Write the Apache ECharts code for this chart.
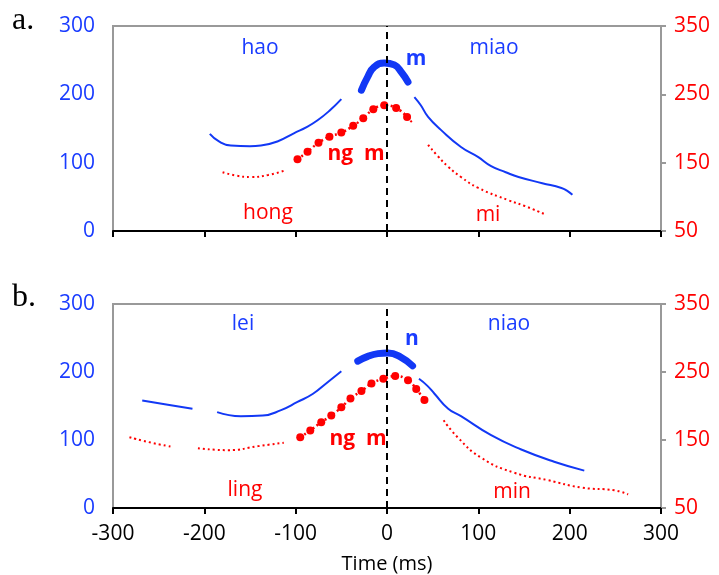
<!DOCTYPE html>
<html>
<head>
<meta charset="utf-8">
<script src="https://cdn.jsdelivr.net/npm/echarts@6/dist/echarts.min.js"></script>
<style>
html,body{margin:0;padding:0;background:#fff;}
#chart{width:719px;height:575px;}
</style>
</head>
<body>
<div id="chart"></div>
<script>
// ---- Axis ticks ----
const xTicks = [-300, -200, -100, 0, 100, 200, 300];
const leftTicks = [0, 100, 200, 300];
const rightTicks = [50, 150, 250, 350];

// ---- Panel a (blue: left axis, red: right axis) ----
const a_hao  = [[-194,142],[-184,131],[-171,125],[-150,124],[-138,125],[-120,131],[-102,143],[-88,152],[-76,162],[-63,176],[-50,193]];
const a_m    = [[-28,206],[-21,226],[-14,240],[-3,246],[8,243],[16,232],[23,218]];
const a_miao = [[30,196],[37,184],[45,167],[59,148],[81,123],[100,108],[114,95],[130,86],[144,79],[170,70],[191,63],[197,59],[203,53]];
const a_hong = [[-180,136],[-165,131],[-149,129],[-130,132],[-111,139]];
const a_ng   = [[-98,155],[-87,166],[-75,179],[-63,188],[-50,194],[-37,204],[-26,215],[-15,228],[-3,234],[10,230],[22,217]];
const a_ngTail = [[22,217],[28,208]];
const a_mi   = [[45,176],[56,159],[67,144],[81,129],[100,113],[133,95],[150,87],[172,75]];

// ---- Panel b ----
const b_lei1  = [[-268,158],[-240,152],[-213,146]];
const b_lei2  = [[-186,141],[-160,135],[-136,136],[-116,144],[-98,156],[-81,168],[-65,185],[-50,201]];
const b_n     = [[-32,216],[-21,223],[-10,227],[1,228],[15,222],[28,209]];
const b_niao  = [[35,190],[44,180],[52,168],[67,146],[81,135],[114,107],[147,86],[183,68],[216,55]];
const b_ling1 = [[-282,154],[-258,146],[-235,140]];
const b_ling2 = [[-207,138],[-174,135],[-141,141],[-113,146]];
const b_ng    = [[-95,154],[-84,164],[-72,176],[-61,186],[-50,198],[-40,211],[-28,222],[-17,233],[-4,240],[9,244],[23,238],[32,225],[41,209]];
const b_min   = [[62,179],[78,153],[103,124],[139,102],[176,91],[213,80],[249,76],[264,70]];

// ---- Annotations ----
const a_labels = [
  {t:'hao',  c:'blue', b:false, x:260, y:48},
  {t:'m',    c:'blue', b:true,  x:416, y:59},
  {t:'miao', c:'blue', b:false, x:494, y:48},
  {t:'ng  m',c:'red',  b:true,  x:356, y:154},
  {t:'hong', c:'red',  b:false, x:268, y:213},
  {t:'mi',   c:'red',  b:false, x:488, y:215}
];
const b_labels = [
  {t:'lei',  c:'blue', b:false, x:243, y:324},
  {t:'n',    c:'blue', b:true,  x:412, y:339},
  {t:'niao', c:'blue', b:false, x:509, y:324},
  {t:'ng  m',c:'red',  b:true,  x:358, y:439},
  {t:'ling', c:'red',  b:false, x:245, y:490},
  {t:'min',  c:'red',  b:false, x:512, y:492}
];

const BLUE = '#1238f5';
const BLUE_T = '#1a3cff';
const RED = '#ff0000';
const TICKFONT = '"Open Sans", sans-serif';

function xAxisDef(gi, showLabels) {
  return {
    type:'value', gridIndex:gi, min:xTicks[0], max:xTicks[xTicks.length-1], interval:100,
    axisLine:{show:true, onZero:false, lineStyle:{color:'#000', width:2}},
    axisTick:{show:true, inside:false, length:6, lineStyle:{color:'#000', width:2}},
    axisLabel:{show:showLabels, color:'#000', fontSize:21, fontFamily:TICKFONT, margin:16},
    splitLine:{show:false},
    name: showLabels ? 'Time (ms)' : '',
    nameLocation:'middle', nameGap:46,
    nameTextStyle:{color:'#000', fontSize:20, fontFamily:TICKFONT}
  };
}
function leftAxisDef(gi) {
  return {
    type:'value', gridIndex:gi, position:'left', min:leftTicks[0], max:leftTicks[leftTicks.length-1], interval:100,
    axisLine:{show:false}, axisTick:{show:false},
    axisLabel:{color:BLUE_T, fontSize:21, fontFamily:TICKFONT, margin:18, padding:[6,0,0,0]},
    splitLine:{show:false}
  };
}
function rightAxisDef(gi) {
  return {
    type:'value', gridIndex:gi, position:'right', min:rightTicks[0], max:rightTicks[rightTicks.length-1], interval:100,
    axisLine:{show:true, lineStyle:{color:'#999', width:2}},
    axisTick:{show:true, inside:false, length:5, lineStyle:{color:'#999', width:2}},
    axisLabel:{color:RED, fontSize:21, fontFamily:TICKFONT, margin:13, padding:[6,0,0,0]},
    splitLine:{show:false}
  };
}

function blueThin(data, xi, yi, withMark) {
  const s = {type:'line', xAxisIndex:xi, yAxisIndex:yi, data:data, smooth:true, showSymbol:false, symbol:'none',
    lineStyle:{color:BLUE, width:2}, z:3};
  if (withMark) {
    s.markLine = {silent:true, symbol:['none','none'], label:{show:false}, animation:false,
      lineStyle:{color:'#000', type:[7,5], width:2}, data:[{xAxis:0}], z:10};
  }
  return s;
}
function blueThick(data, xi, yi) {
  return {type:'line', xAxisIndex:xi, yAxisIndex:yi, data:data, smooth:true, showSymbol:false, symbol:'none',
    lineStyle:{color:BLUE, width:7, cap:'round', join:'round'}, z:3};
}
function redDotted(data, xi, yi) {
  return {type:'line', xAxisIndex:xi, yAxisIndex:yi, data:data, smooth:true, showSymbol:false, symbol:'none',
    lineStyle:{color:RED, width:2, type:[2,3]}, z:3};
}
function redMarked(data, xi, yi) {
  return {type:'line', xAxisIndex:xi, yAxisIndex:yi, data:data, smooth:true, showSymbol:true,
    symbol:'circle', symbolSize:8, itemStyle:{color:RED},
    lineStyle:{color:RED, width:2.5, type:[2,3]}, z:4};
}

const graphics = [
  {type:'text', x:12, y:37, style:{text:'a.', fill:'#000', font:'32px "Liberation Serif", serif', verticalAlign:'bottom'}},
  {type:'text', x:12, y:314, style:{text:'b.', fill:'#000', font:'32px "Liberation Serif", serif', verticalAlign:'bottom'}}
];
a_labels.concat(b_labels).forEach(l => {
  graphics.push({type:'text', x:l.x, y:l.y, z:20, style:{
    text:l.t, fill: l.c === 'blue' ? BLUE_T : RED,
    font: (l.b ? 'bold ' : '') + '21px "Open Sans", sans-serif',
    align:'center', verticalAlign:'middle'}});
});

const chart = echarts.init(document.getElementById('chart'), null, {renderer:'canvas'});
chart.setOption({
  animation:false,
  backgroundColor:'#fff',
  grid:[
    {left:113, right:58, top:26, height:205, show:true, borderColor:'#999', borderWidth:2, backgroundColor:'transparent'},
    {left:113, right:58, top:304, height:206, show:true, borderColor:'#999', borderWidth:2, backgroundColor:'transparent'}
  ],
  xAxis:[xAxisDef(0,false), xAxisDef(1,true)],
  yAxis:[leftAxisDef(0), rightAxisDef(0), leftAxisDef(1), rightAxisDef(1)],
  series:[
    blueThin(a_hao, 0, 0, true),
    blueThick(a_m, 0, 0),
    blueThin(a_miao, 0, 0, false),
    redDotted(a_hong, 0, 1),
    redMarked(a_ng, 0, 1),
    redDotted(a_ngTail, 0, 1),
    redDotted(a_mi, 0, 1),

    blueThin(b_lei1, 1, 2, true),
    blueThin(b_lei2, 1, 2, false),
    blueThick(b_n, 1, 2),
    blueThin(b_niao, 1, 2, false),
    redDotted(b_ling1, 1, 3),
    redDotted(b_ling2, 1, 3),
    redMarked(b_ng, 1, 3),
    redDotted(b_min, 1, 3)
  ],
  graphic: graphics
});
</script>
</body>
</html>
